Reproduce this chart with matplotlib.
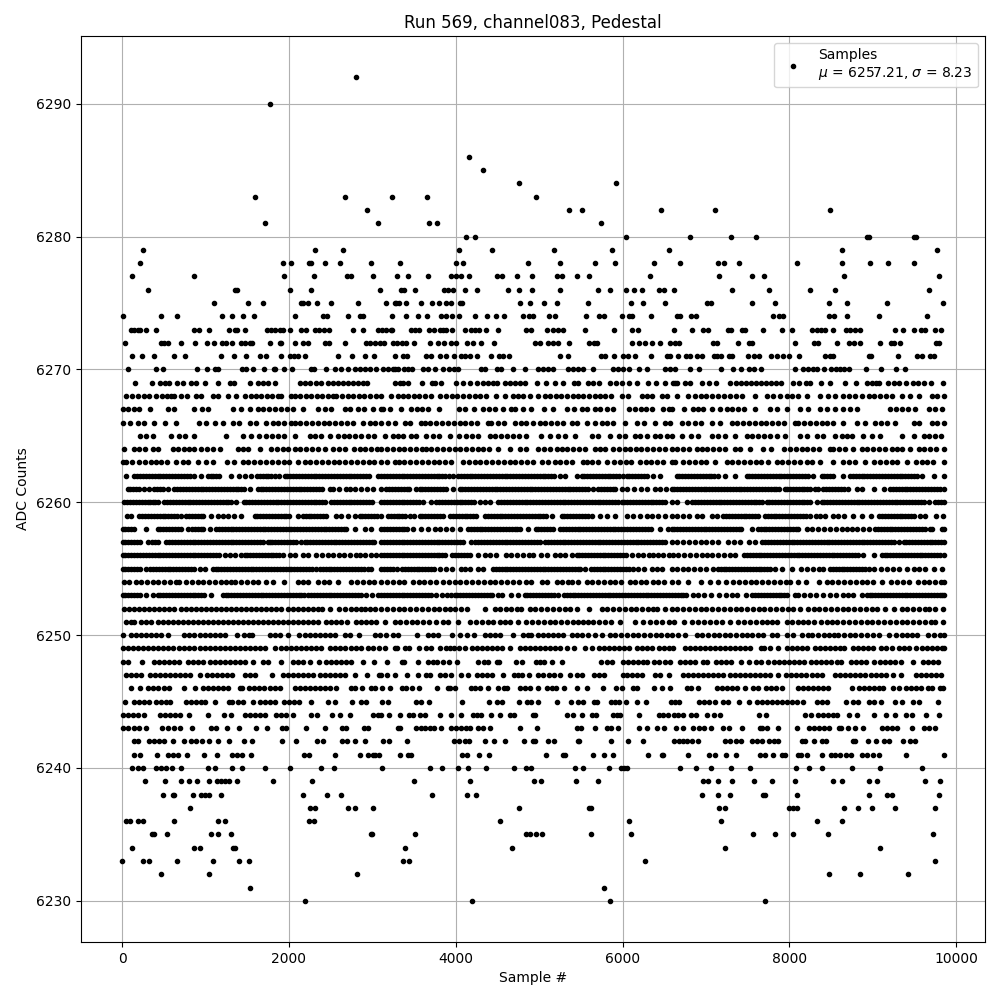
import matplotlib
matplotlib.use("Agg")
import matplotlib.pyplot as plt

# sample numbers, one list per ADC level
adc_6230 = [2195, 4192, 5848, 7708]
adc_6231 = [1535, 5776]
adc_6232 = [470, 1045, 2820, 8476, 8848, 9424]
adc_6233 = [0, 250, 320, 660, 1090, 1405, 1520, 3364, 3436, 6268, 9748]
adc_6234 = [120, 865, 935, 1335, 1355, 3388, 4672, 7228, 9088]
adc_6235 = [360, 385, 540, 1070, 1155, 1310, 2985, 3000, 3508, 4840, 4888, 4960, 5032, 5620, 6100, 7564, 7828, 8044, 8464, 9724]
adc_6236 = [50, 100, 195, 250, 625, 1155, 1235, 2245, 2295, 4528, 6076, 7180, 8332, 8632]
adc_6237 = [815, 2255, 2315, 2710, 2795, 3008, 4756, 5596, 5620, 7156, 7228, 7996, 8044, 8092, 8656, 8824, 8992, 9268, 9748]
adc_6238 = [490, 610, 625, 850, 945, 995, 1045, 1190, 2170, 2460, 2625, 3712, 4132, 4240, 6952, 7144, 7288, 7684, 7708, 8092, 8956, 9172, 9232, 9796]
adc_6239 = [280, 515, 705, 800, 900, 1045, 1140, 1190, 1235, 1285, 1380, 1815, 2280, 3496, 4168, 4936, 5020, 5440, 5704, 6964, 7024, 7144, 7312, 7576, 7792, 8068, 8524, 8632, 8956, 9052, 9628, 9808]
adc_6240 = [120, 190, 250, 410, 470, 530, 600, 705, 1035, 1115, 1320, 1440, 1715, 2015, 2385, 2545, 3112, 3688, 3832, 4024, 4144, 4360, 4696, 4848, 4908, 5428, 5524, 5832, 5980, 6016, 6052, 6688, 6880, 7060, 7300, 7528, 8080, 8236, 8392, 8752, 9088, 9592]
adc_6241 = [145, 215, 420, 550, 610, 670, 780, 985, 1140, 1320, 1380, 1440, 1545, 2185, 2245, 2555, 2855, 2945, 3010, 3028, 3076, 3328, 3428, 3468, 4072, 4132, 4276, 4396, 5080, 5284, 5308, 5644, 5776, 5884, 6304, 6472, 6480, 6784, 7036, 7108, 7240, 7360, 7648, 7708, 7804, 7912, 7948, 8104, 8140, 8212, 8392, 8500, 8548, 8608, 8680, 8740, 8872, 8932, 9004, 9076, 9400, 9850]
adc_6242 = [145, 195, 325, 385, 445, 505, 610, 745, 830, 890, 960, 1045, 1150, 1285, 1465, 1560, 1920, 2085, 2340, 2410, 2640, 2700, 2795, 2915, 3124, 3196, 3412, 3976, 4036, 4108, 4156, 4348, 4456, 4588, 4816, 4924, 4948, 5104, 5176, 5464, 5476, 5860, 6064, 6244, 6616, 6676, 6728, 6776, 6828, 6904, 7228, 7288, 7360, 7420, 7552, 7612, 7672, 7756, 7816, 7868, 8152, 8188, 8296, 8392, 8440, 8764, 8788, 8944, 9040, 9136, 9188, 9364, 9448, 9508]
adc_6243 = [16, 76, 148, 208, 288, 484, 556, 628, 700, 844, 1060, 1128, 1252, 1396, 1600, 1732, 1912, 1960, 2200, 2436, 2632, 2680, 2896, 2944, 3304, 3328, 3520, 3588, 3628, 3688, 3736, 3820, 3940, 4000, 4060, 4128, 4168, 4264, 4324, 4408, 4768, 4972, 5452, 5500, 5668, 5812, 5860, 5944, 6196, 6292, 6412, 6496, 6640, 6724, 6844, 6916, 6976, 7060, 7204, 7276, 7432, 7648, 7672, 7732, 7864, 8092, 8236, 8296, 8356, 8416, 8476, 8596, 8620, 8704, 8788, 8884, 9112, 9172, 9232, 9292, 9472, 9616, 9676, 9748]
adc_6244 = [8, 68, 128, 188, 268, 460, 520, 580, 640, 700, 808, 1032, 1220, 1300, 1468, 1528, 1588, 1648, 1708, 1848, 1908, 1968, 2048, 2268, 2340, 2520, 2608, 2728, 3008, 3068, 3100, 3196, 3328, 3436, 3484, 3568, 3628, 3808, 3940, 4060, 4204, 4252, 4308, 4420, 4528, 4648, 4700, 4924, 4948, 5332, 5404, 5512, 5632, 5680, 5884, 5932, 5972, 6196, 6436, 6484, 6544, 6616, 6668, 6728, 6820, 6880, 7012, 7096, 7168, 7636, 7720, 8188, 8260, 8344, 8404, 8464, 8524, 8572, 8716, 8812, 9016, 9160, 9268, 9400, 9472, 9640, 9796]
adc_6245 = [32, 148, 208, 268, 328, 408, 468, 528, 580, 768, 828, 888, 948, 988, 1108, 1276, 1316, 1388, 1448, 1568, 1648, 1708, 1768, 1828, 1940, 2000, 2060, 2120, 2260, 2468, 2548, 2752, 2860, 2920, 3112, 3184, 3520, 3580, 3676, 4072, 4396, 4492, 4552, 4756, 4852, 4900, 4984, 5212, 5380, 5464, 5524, 5656, 5692, 5860, 5908, 5956, 6040, 6172, 6280, 6580, 6628, 6676, 6916, 6976, 7036, 7108, 7204, 7264, 7396, 7516, 7612, 7672, 7732, 7792, 7852, 7912, 7972, 8032, 8092, 8164, 8332, 8392, 8452, 8680, 8764, 8824, 8956, 9016, 9100, 9268, 9352, 9484, 9556, 9784]
adc_6246 = [108, 220, 308, 368, 428, 508, 568, 748, 880, 968, 1028, 1088, 1148, 1208, 1268, 1408, 1436, 1516, 1576, 1636, 1696, 1768, 1828, 1888, 2068, 2128, 2188, 2248, 2308, 2368, 2428, 2488, 2560, 2740, 2788, 2872, 2980, 3028, 3112, 3208, 3352, 3400, 3472, 3556, 3772, 3904, 3928, 3988, 4180, 4236, 4288, 4384, 4504, 4576, 4620, 4768, 4828, 4888, 4984, 5092, 5148, 5200, 5296, 5452, 5572, 5764, 5920, 5992, 6124, 6172, 6376, 6472, 6568, 6772, 6820, 6904, 7132, 7192, 7252, 7312, 7372, 7468, 7564, 7624, 7720, 7780, 7840, 7912, 8104, 8164, 8224, 8284, 8344, 8404, 8464, 8752, 8836, 8896, 8956, 9016, 9076, 9124, 9244, 9316, 9400, 9460, 9520, 9580, 9664, 9712, 9808, 9845]
adc_6247 = [48, 108, 168, 228, 340, 400, 460, 520, 580, 640, 700, 760, 820, 928, 1020, 1080, 1140, 1200, 1260, 1320, 1468, 1528, 1588, 1792, 1924, 1984, 2044, 2104, 2164, 2224, 2284, 2368, 2428, 2488, 2548, 2608, 2668, 2788, 2940, 3076, 3100, 3172, 3268, 3420, 3544, 3640, 3688, 3808, 3868, 3940, 4060, 4144, 4252, 4312, 4372, 4432, 4564, 4696, 4744, 4796, 4880, 4984, 5044, 5116, 5176, 5248, 5368, 5452, 5512, 5656, 5716, 5776, 6004, 6052, 6112, 6172, 6232, 6388, 6448, 6556, 6724, 6784, 6844, 6904, 6964, 7024, 7084, 7144, 7204, 7288, 7348, 7408, 7468, 7528, 7588, 7648, 7708, 7768, 7864, 7960, 8020, 8080, 8140, 8200, 8272, 8332, 8392, 8548, 8608, 8668, 8728, 8788, 8848, 8908, 8980, 9040, 9100, 9160, 9244, 9340, 9520, 9580, 9640, 9700, 9760, 9820]
adc_6248 = [8, 68, 236, 388, 448, 508, 568, 628, 688, 788, 848, 908, 968, 1048, 1108, 1168, 1228, 1288, 1348, 1408, 1468, 1568, 1688, 1748, 1900, 2048, 2108, 2168, 2248, 2356, 2448, 2508, 2568, 2628, 2688, 2748, 2888, 3016, 3172, 3352, 3380, 3544, 3664, 3724, 3772, 3844, 3916, 4012, 4264, 4336, 4384, 4492, 4516, 4720, 4792, 4960, 5008, 5056, 5152, 5272, 5740, 5812, 5872, 6004, 6064, 6124, 6184, 6244, 6292, 6376, 6436, 6508, 6568, 6688, 6748, 6808, 6868, 6964, 7012, 7120, 7180, 7240, 7300, 7420, 7516, 7600, 7660, 7744, 7816, 7876, 7936, 7996, 8056, 8116, 8176, 8260, 8320, 8380, 8440, 8500, 8572, 8620, 8740, 8800, 8860, 8920, 9016, 9088, 9148, 9208, 9268, 9340, 9484, 9604, 9664, 9724, 9784]
adc_6249 = [8, 68, 128, 188, 248, 308, 368, 428, 488, 548, 608, 688, 748, 808, 868, 928, 988, 1048, 1108, 1168, 1228, 1288, 1348, 1408, 1468, 1528, 1588, 1648, 1708, 1828, 1908, 1968, 2028, 2088, 2148, 2208, 2268, 2328, 2388, 2488, 2548, 2608, 2668, 2748, 2808, 2868, 2948, 3008, 3084, 3148, 3268, 3300, 3388, 3444, 3556, 3640, 3700, 3808, 3880, 3928, 3976, 4036, 4108, 4192, 4252, 4312, 4372, 4432, 4492, 4552, 4648, 4768, 4828, 4888, 4948, 5008, 5068, 5128, 5188, 5248, 5332, 5416, 5548, 5632, 5716, 5776, 5836, 5896, 5956, 6016, 6076, 6172, 6232, 6292, 6352, 6436, 6496, 6556, 6608, 6748, 6808, 6868, 6928, 6988, 7048, 7108, 7168, 7228, 7288, 7348, 7408, 7468, 7528, 7660, 7696, 7768, 7864, 7972, 8032, 8092, 8152, 8212, 8308, 8368, 8428, 8488, 8548, 8608, 8656, 8764, 8824, 8884, 8944, 9004, 9100, 9160, 9232, 9316, 9376, 9436, 9520, 9592, 9652, 9712, 9772, 9832, 9850]
adc_6250 = [16, 108, 168, 228, 288, 348, 408, 468, 556, 748, 808, 868, 928, 988, 1048, 1108, 1168, 1228, 1372, 1460, 1520, 1556, 1768, 1828, 1888, 1988, 2116, 2188, 2248, 2308, 2368, 2428, 2488, 2548, 2668, 2728, 2836, 3028, 3088, 3168, 3248, 3308, 3532, 3668, 3730, 3788, 3956, 4048, 4132, 4216, 4348, 4410, 4470, 4528, 4688, 4808, 4868, 4908, 4988, 5050, 5110, 5170, 5230, 5288, 5388, 5450, 5508, 5588, 5665, 5748, 5848, 5915, 5985, 6050, 6120, 6190, 6260, 6330, 6400, 6465, 6530, 6588, 6660, 6748, 6888, 6955, 7020, 7090, 7155, 7225, 7290, 7360, 7428, 7488, 7548, 7628, 7688, 7788, 7848, 7968, 8048, 8148, 8228, 8268, 8348, 8410, 8470, 8530, 8588, 8660, 8725, 8790, 8860, 8930, 9000, 9068, 9188, 9276, 9348, 9408, 9470, 9528, 9660, 9730, 9800, 9850]
adc_6251 = [48, 108, 148, 228, 288, 348, 428, 488, 548, 608, 668, 728, 788, 848, 908, 968, 1028, 1088, 1148, 1208, 1268, 1328, 1388, 1448, 1508, 1568, 1628, 1688, 1748, 1808, 1868, 1928, 1988, 2048, 2108, 2168, 2228, 2288, 2348, 2448, 2508, 2568, 2628, 2700, 2800, 2860, 2920, 2980, 3048, 3148, 3268, 3335, 3400, 3470, 3540, 3610, 3680, 3768, 3848, 3908, 4024, 4168, 4240, 4315, 4388, 4448, 4528, 4588, 4648, 4748, 4848, 4915, 4985, 5055, 5125, 5190, 5260, 5330, 5400, 5465, 5530, 5588, 5648, 5720, 5790, 5860, 5968, 6148, 6248, 6328, 6400, 6468, 6556, 6620, 6740, 6828, 6900, 6975, 7045, 7115, 7188, 7288, 7388, 7460, 7530, 7600, 7670, 7730, 7788, 7848, 7968, 8030, 8100, 8168, 8228, 8300, 8375, 8448, 8508, 8575, 8645, 8715, 8785, 8855, 8925, 8995, 9065, 9135, 9205, 9275, 9345, 9415, 9485, 9555, 9625, 9695, 9748, 9836]
adc_6252 = [28, 88, 148, 208, 268, 328, 388, 448, 508, 568, 628, 708, 768, 828, 888, 948, 1008, 1068, 1128, 1188, 1248, 1308, 1368, 1428, 1488, 1548, 1608, 1668, 1728, 1788, 1848, 1908, 1988, 2048, 2108, 2168, 2228, 2288, 2348, 2396, 2488, 2596, 2668, 2740, 2800, 2860, 2908, 2968, 3028, 3108, 3175, 3245, 3315, 3385, 3455, 3525, 3595, 3665, 3735, 3805, 3868, 3928, 3995, 4065, 4140, 4348, 4468, 4535, 4600, 4665, 4730, 4788, 4888, 4955, 5025, 5095, 5165, 5235, 5305, 5375, 5448, 5596, 5748, 5815, 5885, 5955, 6025, 6095, 6165, 6235, 6305, 6370, 6408, 6508, 6588, 6655, 6725, 6795, 6865, 6935, 7005, 7075, 7145, 7215, 7285, 7355, 7425, 7495, 7568, 7636, 7700, 7770, 7840, 7910, 7980, 8048, 8128, 8220, 8290, 8360, 8430, 8500, 8570, 8648, 8708, 8775, 8845, 8915, 8985, 9055, 9148, 9248, 9348, 9415, 9485, 9555, 9625, 9668, 9748, 9840]
adc_6253 = [8, 75, 145, 215, 290, 368, 428, 495, 565, 635, 705, 775, 845, 915, 985, 1068, 1208, 1275, 1345, 1415, 1485, 1555, 1625, 1695, 1765, 1835, 1905, 1975, 2045, 2115, 2185, 2228, 2268, 2335, 2405, 2475, 2545, 2615, 2685, 2755, 2825, 2868, 2928, 2995, 3065, 3108, 3175, 3245, 3315, 3385, 3455, 3525, 3595, 3665, 3708, 3768, 3835, 3900, 3948, 3988, 4055, 4125, 4195, 4265, 4335, 4405, 4508, 4556, 4668, 4748, 4828, 4895, 4965, 5035, 5105, 5175, 5228, 5300, 5365, 5435, 5505, 5575, 5645, 5715, 5785, 5855, 5925, 5995, 6065, 6135, 6205, 6275, 6345, 6415, 6485, 6555, 6625, 6695, 6765, 6848, 6900, 6975, 7060, 7156, 7235, 7308, 7368, 7476, 7556, 7625, 7695, 7765, 7835, 7905, 7975, 8068, 8108, 8175, 8245, 8315, 8408, 8488, 8560, 8640, 8708, 8768, 8868, 8928, 8995, 9065, 9135, 9205, 9275, 9345, 9415, 9485, 9555, 9625, 9695, 9765, 9835, 9852]
adc_6254 = [28, 88, 168, 228, 295, 365, 435, 505, 575, 645, 688, 768, 835, 905, 975, 1045, 1115, 1185, 1248, 1308, 1348, 1428, 1495, 1565, 1635, 1728, 1808, 1936, 2108, 2170, 2228, 2348, 2415, 2485, 2588, 2748, 2815, 2885, 2955, 3025, 3108, 3175, 3245, 3315, 3380, 3488, 3555, 3625, 3688, 3760, 3848, 3915, 3985, 4055, 4125, 4195, 4265, 4335, 4405, 4475, 4545, 4615, 4685, 4755, 4848, 4908, 5028, 5092, 5208, 5275, 5345, 5388, 5468, 5568, 5636, 5708, 5775, 5845, 5915, 5985, 6088, 6148, 6215, 6285, 6368, 6428, 6495, 6588, 6668, 6788, 6940, 7048, 7148, 7236, 7328, 7395, 7465, 7535, 7605, 7675, 7745, 7815, 7885, 7955, 8008, 8100, 8196, 8356, 8448, 8515, 8585, 8655, 8725, 8795, 8865, 8935, 9005, 9108, 9220, 9290, 9360, 9428, 9540, 9608, 9678, 9748, 9818, 9850]
adc_6255 = [8, 75, 145, 215, 288, 340, 405, 475, 545, 615, 685, 755, 825, 868, 928, 988, 1088, 1155, 1225, 1295, 1365, 1435, 1505, 1575, 1645, 1715, 1785, 1855, 1925, 1995, 2065, 2135, 2205, 2275, 2368, 2408, 2475, 2545, 2615, 2685, 2755, 2825, 2895, 2948, 2988, 3108, 3175, 3245, 3300, 3356, 3425, 3495, 3565, 3635, 3700, 3740, 3810, 3880, 3950, 4060, 4108, 4175, 4268, 4328, 4448, 4515, 4585, 4655, 4725, 4795, 4865, 4935, 5005, 5075, 5145, 5215, 5285, 5355, 5425, 5495, 5548, 5620, 5690, 5760, 5830, 5900, 5970, 6040, 6128, 6188, 6255, 6348, 6408, 6475, 6588, 6655, 6728, 6788, 6860, 6930, 7000, 7088, 7140, 7210, 7280, 7350, 7420, 7490, 7560, 7630, 7700, 7770, 7828, 7908, 8028, 8140, 8210, 8280, 8350, 8408, 8488, 8555, 8625, 8695, 8765, 8835, 8905, 9008, 9100, 9170, 9240, 9310, 9408, 9488, 9555, 9625, 9728, 9828]
adc_6256 = [8, 75, 145, 215, 285, 355, 425, 495, 565, 635, 705, 775, 845, 915, 985, 1055, 1125, 1228, 1288, 1355, 1428, 1468, 1535, 1605, 1675, 1745, 1815, 1885, 1928, 2008, 2068, 2168, 2228, 2328, 2395, 2465, 2528, 2596, 2665, 2735, 2808, 2848, 2915, 2985, 3048, 3108, 3175, 3245, 3315, 3385, 3455, 3525, 3595, 3665, 3735, 3805, 3868, 3956, 4025, 4095, 4165, 4268, 4348, 4415, 4485, 4608, 4668, 4735, 4805, 4875, 4928, 5020, 5090, 5188, 5248, 5315, 5388, 5448, 5515, 5585, 5655, 5725, 5795, 5865, 5935, 6005, 6108, 6180, 6248, 6315, 6368, 6428, 6488, 6556, 6608, 6668, 6735, 6805, 6875, 6948, 7008, 7075, 7145, 7215, 7285, 7348, 7460, 7525, 7595, 7665, 7735, 7805, 7875, 7945, 8015, 8085, 8155, 8225, 8295, 8365, 8435, 8505, 8575, 8645, 8715, 8785, 8888, 9008, 9108, 9175, 9245, 9315, 9385, 9455, 9525, 9595, 9665, 9735, 9805, 9850]
adc_6257 = [8, 75, 145, 215, 308, 356, 425, 528, 568, 635, 705, 775, 845, 915, 985, 1055, 1125, 1195, 1265, 1335, 1405, 1475, 1545, 1615, 1685, 1748, 1768, 1835, 1905, 1975, 2045, 2148, 2188, 2255, 2325, 2395, 2465, 2535, 2605, 2675, 2745, 2815, 2885, 2955, 3025, 3108, 3175, 3245, 3315, 3385, 3455, 3525, 3595, 3665, 3735, 3805, 3875, 3945, 4015, 4085, 4180, 4236, 4305, 4375, 4445, 4515, 4585, 4655, 4725, 4795, 4865, 4935, 5005, 5068, 5108, 5175, 5245, 5315, 5385, 5455, 5525, 5595, 5665, 5735, 5805, 5875, 5945, 6015, 6085, 6155, 6225, 6295, 6365, 6435, 6505, 6588, 6655, 6725, 6795, 6865, 6935, 7005, 7075, 7145, 7268, 7340, 7410, 7516, 7588, 7676, 7745, 7815, 7885, 7955, 8025, 8095, 8165, 8235, 8305, 8375, 8445, 8515, 8585, 8655, 8725, 8795, 8865, 8935, 9005, 9075, 9145, 9215, 9308, 9368, 9435, 9505, 9575, 9645, 9715, 9785, 9850]
adc_6258 = [8, 75, 145, 288, 428, 495, 565, 635, 705, 788, 836, 905, 975, 1048, 1128, 1195, 1265, 1335, 1405, 1475, 1545, 1615, 1688, 1716, 1785, 1855, 1925, 1995, 2065, 2135, 2205, 2275, 2345, 2415, 2485, 2555, 2625, 2688, 2788, 2908, 2988, 3108, 3175, 3245, 3315, 3385, 3488, 3588, 3668, 3748, 3815, 3885, 3955, 4048, 4148, 4215, 4285, 4355, 4425, 4495, 4565, 4635, 4705, 4775, 4868, 4956, 5025, 5095, 5165, 5248, 5288, 5355, 5425, 5495, 5565, 5635, 5705, 5775, 5845, 5915, 5985, 6055, 6125, 6195, 6265, 6335, 6448, 6540, 6588, 6655, 6725, 6795, 6865, 6935, 7005, 7075, 7145, 7215, 7285, 7355, 7425, 7548, 7620, 7690, 7760, 7830, 7900, 7970, 8040, 8108, 8208, 8275, 8345, 8415, 8485, 8555, 8625, 8688, 8748, 8815, 8885, 8948, 9028, 9095, 9165, 9235, 9305, 9375, 9445, 9515, 9585, 9708, 9828, 9850]
adc_6259 = [60, 108, 208, 275, 345, 415, 485, 555, 625, 708, 768, 835, 905, 975, 1060, 1148, 1208, 1275, 1345, 1428, 1588, 1655, 1725, 1795, 1865, 1935, 2005, 2108, 2168, 2235, 2305, 2375, 2445, 2568, 2628, 2708, 2788, 2848, 2915, 2985, 3055, 3108, 3188, 3255, 3325, 3395, 3448, 3496, 3568, 3635, 3705, 3775, 3845, 3928, 3968, 4035, 4105, 4175, 4245, 4348, 4388, 4455, 4525, 4595, 4665, 4735, 4805, 4875, 4945, 5015, 5085, 5148, 5268, 5335, 5405, 5475, 5545, 5628, 5728, 5808, 5908, 6048, 6128, 6208, 6288, 6348, 6428, 6508, 6588, 6655, 6725, 6795, 6888, 6948, 7068, 7128, 7208, 7275, 7345, 7415, 7485, 7555, 7628, 7708, 7775, 7845, 7915, 7985, 8055, 8125, 8195, 8248, 8316, 8368, 8428, 8528, 8588, 8655, 8768, 8876, 8980, 9076, 9145, 9215, 9285, 9355, 9425, 9488, 9568, 9628, 9760, 9845]
adc_6260 = [28, 95, 165, 235, 305, 375, 428, 508, 575, 645, 715, 785, 855, 925, 995, 1065, 1135, 1205, 1275, 1368, 1460, 1525, 1595, 1665, 1735, 1805, 1875, 1945, 2015, 2085, 2155, 2225, 2295, 2365, 2428, 2508, 2575, 2645, 2715, 2785, 2855, 2925, 2995, 3108, 3175, 3245, 3315, 3385, 3455, 3525, 3608, 3700, 3768, 3835, 3905, 3975, 4045, 4115, 4185, 4288, 4348, 4408, 4508, 4548, 4615, 4685, 4755, 4825, 4895, 4965, 5035, 5105, 5175, 5245, 5315, 5385, 5455, 5525, 5595, 5665, 5735, 5805, 5875, 5948, 5988, 6055, 6125, 6195, 6265, 6335, 6405, 6475, 6588, 6655, 6768, 6836, 6905, 6975, 7045, 7115, 7185, 7255, 7325, 7395, 7465, 7535, 7605, 7668, 7728, 7795, 7865, 7935, 8005, 8075, 8145, 8215, 8328, 8388, 8455, 8525, 8595, 8665, 8735, 8805, 8875, 8945, 9015, 9085, 9155, 9225, 9295, 9365, 9435, 9505, 9575, 9668, 9748, 9815, 9850]
adc_6261 = [68, 135, 205, 328, 388, 455, 556, 628, 695, 765, 835, 905, 975, 1045, 1115, 1185, 1255, 1325, 1395, 1465, 1528, 1628, 1695, 1765, 1835, 1905, 1975, 2045, 2115, 2185, 2255, 2325, 2395, 2488, 2528, 2595, 2688, 2728, 2795, 2865, 2935, 3005, 3108, 3168, 3235, 3305, 3375, 3445, 3528, 3568, 3635, 3705, 3775, 3845, 3968, 4048, 4115, 4185, 4255, 4325, 4395, 4465, 4535, 4605, 4675, 4745, 4815, 4885, 4955, 5025, 5095, 5165, 5235, 5305, 5375, 5445, 5515, 5585, 5648, 5708, 5775, 5845, 5915, 6048, 6140, 6220, 6290, 6388, 6448, 6515, 6588, 6655, 6725, 6795, 6865, 6935, 7005, 7075, 7145, 7215, 7285, 7355, 7425, 7495, 7565, 7635, 7705, 7775, 7845, 7968, 8008, 8075, 8145, 8215, 8348, 8408, 8475, 8545, 8615, 8708, 8808, 8875, 9008, 9136, 9208, 9275, 9345, 9415, 9485, 9555, 9625, 9695, 9765, 9850]
adc_6262 = [48, 148, 215, 285, 355, 425, 495, 565, 635, 705, 775, 868, 940, 1028, 1095, 1165, 1308, 1400, 1468, 1548, 1615, 1685, 1755, 1828, 1876, 1948, 2015, 2085, 2155, 2225, 2295, 2365, 2435, 2505, 2575, 2645, 2715, 2785, 2855, 2925, 3068, 3108, 3175, 3245, 3315, 3385, 3455, 3525, 3595, 3665, 3735, 3805, 3875, 3968, 4028, 4095, 4165, 4235, 4305, 4375, 4445, 4515, 4585, 4655, 4725, 4795, 4865, 4935, 5005, 5075, 5145, 5248, 5308, 5448, 5508, 5575, 5645, 5715, 5785, 5855, 5925, 6008, 6048, 6115, 6185, 6255, 6368, 6448, 6648, 6715, 6785, 6855, 6925, 6995, 7065, 7148, 7228, 7348, 7488, 7555, 7625, 7695, 7765, 7835, 7905, 7975, 8045, 8115, 8185, 8288, 8388, 8455, 8525, 8648, 8728, 8795, 8865, 8935, 9005, 9075, 9145, 9215, 9285, 9355, 9425, 9495, 9588, 9736, 9850]
adc_6263 = [8, 48, 116, 208, 280, 348, 412, 468, 535, 648, 728, 795, 908, 1008, 1088, 1252, 1340, 1448, 1515, 1585, 1655, 1725, 1795, 1865, 1935, 2005, 2108, 2188, 2255, 2325, 2395, 2465, 2535, 2605, 2675, 2745, 2815, 2885, 2955, 3025, 3108, 3175, 3268, 3316, 3385, 3455, 3525, 3595, 3665, 3735, 3805, 3875, 3945, 4088, 4156, 4225, 4295, 4365, 4435, 4505, 4575, 4645, 4715, 4785, 4855, 4925, 5028, 5108, 5188, 5255, 5325, 5395, 5528, 5568, 5635, 5705, 5808, 5900, 5965, 6035, 6105, 6208, 6280, 6345, 6415, 6485, 6588, 6628, 6728, 6795, 6865, 6935, 7005, 7108, 7248, 7315, 7385, 7455, 7525, 7595, 7665, 7748, 7848, 7915, 7985, 8055, 8125, 8208, 8276, 8368, 8528, 8648, 8715, 8785, 8908, 9016, 9088, 9155, 9225, 9295, 9408, 9520, 9585, 9655, 9725, 9848]
adc_6264 = [28, 140, 205, 275, 368, 428, 608, 675, 745, 808, 868, 948, 1015, 1085, 1168, 1388, 1455, 1508, 1648, 1788, 1855, 1925, 1988, 2068, 2135, 2205, 2275, 2345, 2428, 2528, 2595, 2668, 2780, 2848, 2915, 2985, 3055, 3108, 3175, 3245, 3315, 3385, 3455, 3525, 3595, 3648, 3708, 3775, 3845, 3915, 3985, 4055, 4125, 4195, 4265, 4328, 4396, 4508, 4648, 4768, 4848, 4988, 5055, 5125, 5208, 5268, 5335, 5405, 5475, 5545, 5668, 5728, 5795, 5888, 5956, 6028, 6088, 6155, 6225, 6295, 6365, 6435, 6505, 6588, 6655, 6725, 6795, 6888, 6948, 7008, 7088, 7155, 7225, 7348, 7408, 7528, 7688, 7780, 7940, 8005, 8075, 8145, 8215, 8285, 8355, 8488, 8528, 8595, 8665, 8768, 8868, 8935, 9005, 9075, 9145, 9228, 9288, 9355, 9448, 9548, 9615, 9685, 9755, 9850]
adc_6265 = [220, 288, 368, 592, 688, 755, 868, 1240, 1448, 1548, 1636, 1728, 1795, 1865, 1935, 2068, 2248, 2315, 2385, 2488, 2588, 2655, 2725, 2795, 2865, 2948, 3020, 3156, 3248, 3308, 3368, 3460, 3528, 3648, 3724, 3796, 3928, 4036, 4128, 4195, 4265, 4408, 4468, 4548, 4615, 4685, 4755, 4848, 5020, 5128, 5228, 5308, 5428, 5628, 5700, 5848, 5956, 6025, 6148, 6208, 6288, 6388, 6448, 6528, 6588, 6708, 6820, 6900, 7068, 7145, 7228, 7348, 7488, 7555, 7625, 7695, 7765, 7848, 7948, 8128, 8208, 8336, 8408, 8548, 8628, 8688, 8748, 8888, 8988, 9088, 9348, 9488, 9608, 9675, 9745, 9820]
adc_6266 = [16, 100, 196, 268, 388, 520, 652, 916, 1000, 1108, 1208, 1328, 1396, 1528, 1608, 1728, 1808, 1875, 1945, 2028, 2068, 2135, 2205, 2275, 2345, 2415, 2485, 2555, 2625, 2695, 2765, 2888, 2968, 3035, 3108, 3188, 3268, 3388, 3455, 3588, 3628, 3695, 3765, 3835, 3905, 3975, 4045, 4115, 4185, 4255, 4388, 4420, 4508, 4575, 4708, 4788, 4848, 4928, 5008, 5075, 5145, 5215, 5285, 5388, 5448, 5568, 5668, 5748, 5808, 5888, 6028, 6168, 6256, 6388, 6508, 6568, 6708, 6788, 6868, 6935, 7068, 7168, 7308, 7375, 7445, 7515, 7585, 7655, 7725, 7795, 7865, 7935, 8068, 8108, 8175, 8245, 8315, 8385, 8455, 8525, 8648, 8808, 8908, 9028, 9095, 9165, 9268, 9488, 9548, 9708, 9775, 9848]
adc_6267 = [8, 75, 140, 208, 340, 548, 628, 860, 956, 1028, 1328, 1428, 1528, 1628, 1695, 1765, 1835, 1905, 1975, 2045, 2168, 2348, 2428, 2508, 2668, 2728, 2828, 2900, 3008, 3108, 3128, 3208, 3340, 3460, 3530, 3600, 3670, 3796, 4036, 4108, 4220, 4328, 4400, 4468, 4564, 4660, 4708, 4808, 4908, 5060, 5164, 5332, 5420, 5508, 5568, 5668, 5728, 5808, 5888, 6076, 6145, 6215, 6285, 6355, 6488, 6556, 6588, 6740, 6848, 6908, 6968, 7068, 7168, 7248, 7315, 7385, 7455, 7588, 7768, 7848, 7976, 8128, 8228, 8368, 8448, 8548, 8648, 8728, 8808, 9208, 9280, 9350, 9420, 9508, 9668, 9748, 9828]
adc_6268 = [48, 115, 190, 268, 324, 408, 475, 535, 588, 628, 708, 776, 888, 948, 1088, 1150, 1268, 1360, 1468, 1540, 1608, 1668, 1735, 1800, 1868, 1908, 2028, 2068, 2135, 2200, 2270, 2335, 2400, 2465, 2528, 2568, 2635, 2705, 2770, 2840, 2905, 2975, 3040, 3108, 3228, 3308, 3368, 3428, 3495, 3560, 3630, 3700, 3808, 3888, 3955, 4020, 4090, 4155, 4225, 4290, 4360, 4488, 4588, 4688, 4748, 4808, 4896, 4988, 5068, 5135, 5200, 5265, 5335, 5400, 5465, 5530, 5600, 5665, 5730, 5795, 5860, 5988, 6068, 6228, 6290, 6350, 6468, 6528, 6648, 6788, 6868, 6935, 7005, 7075, 7145, 7215, 7285, 7355, 7428, 7588, 7728, 7808, 7888, 7968, 8035, 8105, 8208, 8368, 8468, 8548, 8648, 8715, 8785, 8868, 8948, 9015, 9085, 9155, 9228, 9348, 9448, 9548, 9708, 9775, 9850]
adc_6269 = [160, 364, 460, 520, 568, 664, 736, 832, 892, 988, 1144, 1288, 1336, 1532, 1628, 1688, 1748, 1828, 2128, 2188, 2248, 2328, 2380, 2468, 2528, 2588, 2648, 2708, 2768, 2828, 2888, 2940, 3268, 3328, 3368, 3428, 3596, 3716, 3748, 3828, 4000, 4084, 4168, 4260, 4328, 4388, 4448, 4496, 4588, 4648, 4708, 4768, 4828, 4972, 5080, 5188, 5284, 5416, 5468, 5588, 5648, 5716, 5848, 5916, 5992, 6076, 6172, 6308, 6400, 6508, 6628, 6608, 6648, 6748, 6808, 6948, 7036, 7120, 7288, 7360, 7420, 7480, 7540, 7600, 7660, 7720, 7780, 7840, 7900, 8044, 8116, 8200, 8248, 8376, 8488, 8668, 8804, 8932, 8988, 9036, 9076, 9180, 9248, 9308, 9400, 9484, 9540, 9608, 9700, 9845]
adc_6270 = [76, 412, 496, 904, 1016, 1108, 1148, 1440, 1488, 1564, 1696, 1816, 1836, 1936, 2032, 2260, 2296, 2440, 2548, 2628, 2708, 2788, 2848, 2908, 2968, 3040, 3128, 3188, 3248, 3268, 3308, 3376, 3428, 3476, 3608, 3668, 3748, 3844, 3916, 3976, 4028, 4300, 4348, 4492, 4548, 4684, 4828, 4988, 5048, 5108, 5164, 5348, 5408, 5468, 5528, 5644, 5884, 5948, 6008, 6076, 6196, 6296, 6508, 6568, 6628, 6808, 6916, 7180, 7324, 7420, 7516, 7576, 7660, 8068, 8164, 8224, 8284, 8332, 8416, 8500, 8556, 8608, 8656, 8716, 8920, 9100, 9280, 9384]
adc_6271 = [124, 244, 388, 628, 760, 1180, 1340, 1480, 1648, 1720, 1900, 2008, 2060, 2108, 2188, 2588, 2752, 2908, 3020, 3268, 3364, 3412, 3640, 3700, 3808, 3880, 3976, 4060, 4116, 4172, 4252, 4420, 4516, 4564, 4636, 5248, 5344, 5740, 5788, 5896, 6004, 6068, 6148, 6344, 6528, 6568, 6664, 6760, 6808, 6892, 6956, 7096, 7132, 7180, 7276, 7308, 7504, 7576, 7636, 7780, 7852, 7924, 7996, 8116, 8428, 8488, 8524, 8948, 8980, 9304, 9532, 9588, 9688, 9728]
adc_6272 = [40, 468, 508, 556, 712, 880, 1012, 1096, 1192, 1240, 1312, 1420, 1476, 1528, 1556, 1768, 1888, 1908, 2068, 2164, 2228, 2428, 2476, 2668, 2920, 2968, 3028, 3088, 3136, 3248, 3300, 3360, 3408, 3496, 3696, 3784, 3856, 3940, 4000, 4132, 4204, 4308, 4456, 4948, 5008, 5104, 5164, 5224, 5356, 5596, 5656, 5692, 6112, 6196, 6268, 6356, 6448, 6568, 6628, 6676, 7084, 7132, 7384, 7516, 7548, 8068, 8296, 8348, 8572, 8716, 8776, 8848, 9088, 9220, 9248, 9328, 9760, 9788]
adc_6273 = [108, 148, 188, 220, 292, 412, 868, 916, 1036, 1276, 1348, 1380, 1468, 1740, 1788, 1828, 1888, 1928, 2008, 2140, 2200, 2308, 2356, 2416, 2476, 2764, 2884, 3068, 3116, 3168, 3228, 3240, 3460, 3508, 3556, 3676, 3736, 3808, 3848, 3888, 3956, 4108, 4188, 4228, 4276, 4368, 4504, 4848, 4900, 5092, 5164, 5224, 5284, 5548, 5900, 6112, 6184, 6616, 6832, 6964, 7024, 7268, 7300, 7432, 7468, 7684, 7912, 8032, 8272, 8332, 8380, 8428, 8524, 8680, 8728, 8788, 8848, 9268, 9364, 9496, 9580, 9620, 9748, 9820]
adc_6274 = [16, 472, 664, 1192, 1312, 1444, 1576, 2068, 2404, 2456, 2704, 2848, 2884, 3232, 3400, 3544, 3652, 3828, 3888, 3956, 4036, 4228, 4372, 4480, 4576, 4804, 4876, 4928, 5116, 5188, 5560, 5716, 5772, 5992, 6076, 6116, 6340, 6648, 6688, 6820, 6876, 7804, 7876, 7924, 8476, 8536, 8692, 9076, 9652]
adc_6275 = [1096, 1504, 1684, 2148, 2168, 2228, 2332, 2500, 2824, 3160, 3268, 3316, 3280, 3400, 3580, 3716, 3796, 3888, 3948, 4048, 4076, 4768, 4888, 5056, 5212, 5584, 6100, 6244, 6508, 7012, 7060, 7552, 7828, 8476, 8692, 9172, 9845]
adc_6276 = [316, 1348, 1380, 2008, 2260, 3088, 3340, 3376, 3508, 3860, 3908, 3964, 4108, 4252, 4624, 4756, 4912, 5248, 5704, 5848, 6040, 6136, 6232, 6436, 6496, 6616, 7312, 7756, 8248, 8548, 9676]
adc_6277 = [124, 868, 1936, 2296, 2700, 2740, 3004, 3292, 3424, 3664, 3940, 4008, 4068, 4156, 4492, 4552, 4732, 4912, 5212, 5272, 5452, 5596, 6328, 7156, 7552, 7696, 8656, 9796]
adc_6278 = [220, 1924, 2020, 2236, 2268, 2428, 2608, 2980, 3328, 4000, 4084, 4864, 5248, 5668, 5908, 6376, 6688, 7144, 7216, 7396, 8092, 8632, 8968, 9184, 9496]
adc_6279 = [256, 2308, 2644, 4036, 4432, 5176, 5872, 6556, 8632, 9772]
adc_6280 = [4125, 4225, 6045, 6810, 7305, 7605, 8925, 8950, 9490, 9520]
adc_6281 = [1715, 3070, 3680, 3770, 5745]
adc_6282 = [2940, 5360, 5515, 6465, 7110, 8490]
adc_6283 = [1595, 2675, 3240, 3660, 4965]
adc_6284 = [4760, 5925]
adc_6285 = [4330]
adc_6286 = [4160]
adc_6290 = [1775]
adc_6292 = [2800]

# second pass over the solid runs of the busiest levels
more_6253 = [40, 110, 180, 460, 530, 600, 670, 740, 810, 880, 950, 1240, 1310, 1380, 1450, 1520, 1590, 1660, 1730, 1800, 1870, 1940, 2010, 2080, 2150, 2300, 2370, 2440, 2510, 2580, 2650, 2720, 2790, 3140, 3210, 3280, 3350, 3420, 3490, 3560, 3630, 4020, 4090, 4160, 4230, 4300, 4370, 4440, 4860, 4930, 5000, 5070, 5140, 5330, 5400, 5470, 5540, 5610, 5680, 5750, 5820, 5890, 5960, 6030, 6100, 6170, 6240, 6310, 6380, 6450, 6520, 6590, 6660, 6730, 7590, 7660, 7730, 7800, 7870, 7940, 8960, 9030, 9100, 9170, 9240, 9310, 9380, 9450, 9520, 9590, 9660, 9730, 9800]
more_6255 = [40, 110, 180, 370, 440, 510, 580, 650, 720, 790, 1120, 1190, 1260, 1330, 1400, 1470, 1540, 1610, 1680, 1750, 1820, 1890, 1960, 2030, 2100, 2170, 2240, 2320, 2440, 2510, 2580, 2650, 2720, 2790, 2860, 3140, 3210, 3390, 3460, 3530, 3600, 3670, 4480, 4550, 4620, 4690, 4760, 4830, 4900, 4970, 5040, 5110, 5180, 5250, 5320, 5390, 5460, 5655, 5725, 5795, 5865, 5935, 6005, 6075, 7175, 7245, 7315, 7385, 7455, 7525, 7595, 7665, 7735, 8520, 8590, 8660, 8730, 8800, 8870, 8950]
more_6256 = [40, 110, 180, 250, 320, 390, 460, 530, 600, 670, 740, 810, 880, 950, 1020, 1090, 1160, 1500, 1570, 1640, 1710, 1780, 1850, 3140, 3210, 3280, 3350, 3420, 3490, 3560, 3630, 3700, 3770, 3840, 3990, 4060, 4130, 5480, 5550, 5620, 5690, 5760, 5830, 5900, 5970, 6040, 7490, 7560, 7630, 7700, 7770, 7840, 7910, 7980, 8050, 8120, 8190, 8260, 8330, 8400, 8470, 8540, 8610, 8680, 8750, 8820, 9140, 9210, 9280, 9350, 9420, 9490, 9560, 9630, 9700, 9770]
more_6257 = [40, 110, 180, 390, 600, 670, 740, 810, 880, 950, 1020, 1090, 1160, 1230, 1300, 1370, 1440, 1510, 1580, 1650, 1800, 1870, 1940, 2010, 2080, 2220, 2290, 2360, 2430, 2500, 2570, 2640, 2710, 2780, 2850, 2920, 2990, 3140, 3210, 3280, 3350, 3420, 3490, 3560, 3630, 3700, 3770, 3840, 3910, 3980, 4050, 4270, 4340, 4410, 4480, 4550, 4620, 4690, 4760, 4830, 4900, 4970, 5140, 5210, 5280, 5350, 5420, 5490, 5560, 5630, 5700, 5770, 5840, 5910, 5980, 6050, 6120, 6190, 6260, 6330, 6400, 6470, 7710, 7780, 7850, 7920, 7990, 8060, 8130, 8200, 8270, 8340, 8410, 8480, 8550, 8620, 8690, 8760, 8830, 8900, 8970, 9040, 9110, 9180, 9250, 9400, 9470, 9540, 9610, 9680, 9750, 9820]
more_6258 = [40, 110, 460, 530, 600, 670, 870, 940, 1160, 1230, 1300, 1370, 1440, 1510, 1580, 1650, 1750, 1820, 1890, 1960, 2030, 2100, 2170, 2240, 2310, 2380, 2450, 2520, 2590, 2655, 3140, 3210, 3280, 3350, 3420, 4180, 4250, 4320, 4390, 4460, 4530, 4600, 4670, 4740, 4990, 5060, 5130, 5320, 5390, 5460, 5530, 5600, 5670, 5740, 5810, 5880, 5950, 6020, 6090, 6160, 6230, 6300, 6620, 6690, 6760, 6830, 6900, 6970, 7040, 7110, 7180, 7250, 7320, 7390, 7655, 7725, 7795, 7865, 7935, 8005, 8075, 9060, 9130, 9200, 9270, 9340, 9410, 9480, 9550, 9620, 9680]
more_6259 = [240, 310, 380, 450, 520, 590, 660, 800, 870, 940, 1620, 1690, 1760, 1830, 1900, 1970, 2200, 2270, 2340, 2410, 2880, 2950, 3020, 3220, 3290, 3360, 3600, 3670, 3740, 3810, 4000, 4070, 4140, 4210, 4420, 4490, 4560, 4630, 4700, 4770, 4840, 4910, 4980, 5050, 5300, 5370, 5440, 5510, 5580, 7240, 7310, 7380, 7450, 7520, 7590, 7740, 7810, 7880, 7950, 8020, 8090, 8160, 9110, 9180, 9250, 9320, 9390, 9460]
more_6260 = [60, 130, 200, 270, 340, 400, 540, 610, 680, 750, 820, 890, 960, 1030, 1100, 1170, 1240, 1310, 1490, 1560, 1630, 1700, 1770, 1840, 1910, 1980, 2050, 2120, 2190, 2260, 2330, 2400, 2540, 2610, 2680, 2750, 2820, 2890, 2960, 3140, 3210, 3280, 3350, 3420, 3490, 3560, 3800, 3870, 3940, 4010, 4080, 4150, 4220, 4580, 4650, 4720, 4790, 4860, 4930, 5000, 5070, 5140, 5210, 5280, 5350, 5420, 5490, 5560, 5630, 5700, 5770, 5840, 5910, 6020, 6090, 6160, 6230, 6300, 6370, 6440, 6510, 6870, 6940, 7010, 7080, 7150, 7220, 7290, 7360, 7430, 7500, 7570, 7640, 7760, 7830, 7900, 7970, 8040, 8110, 8180, 8250, 8420, 8490, 8560, 8630, 8700, 8770, 8840, 8910, 8980, 9050, 9120, 9190, 9260, 9330, 9400, 9470, 9540, 9610, 9780]
more_6261 = [100, 170, 260, 420, 490, 660, 730, 800, 870, 940, 1010, 1080, 1150, 1220, 1290, 1360, 1430, 1660, 1730, 1800, 1870, 1940, 2010, 2080, 2150, 2220, 2290, 2360, 3200, 3270, 3340, 3410, 3600, 3670, 3740, 3810, 3880, 4080, 4150, 4220, 4290, 4360, 4430, 4500, 4570, 4640, 4710, 4780, 4850, 4920, 4990, 5060, 5130, 5200, 5270, 5340, 5410, 5480, 5550, 5740, 5810, 5880, 5990, 6620, 6690, 6760, 6830, 6900, 6970, 7040, 7110, 7180, 7250, 7320, 7390, 7460, 7530, 7600, 7670, 7740, 7810, 7880, 7950, 8040, 8110, 8180, 8250, 8310, 8440, 8510, 8580, 8650, 9240, 9310, 9380, 9450, 9520, 9590, 9660, 9730, 9800]
more_6262 = [180, 250, 320, 390, 460, 530, 600, 670, 740, 810, 1060, 1130, 1650, 1720, 1790, 1980, 2050, 2120, 2190, 2260, 2330, 2400, 2470, 2540, 2610, 2680, 2750, 2820, 2890, 2960, 3140, 3210, 3280, 3350, 3420, 3490, 3560, 3630, 3700, 3770, 3840, 3920, 4060, 4130, 4200, 4270, 4340, 4410, 4480, 4550, 4620, 4690, 4760, 4830, 4900, 4970, 5040, 5110, 5180, 5540, 5610, 5680, 5750, 5820, 5890, 5960, 6080, 6150, 6220, 6290, 6680, 6750, 6820, 6890, 6960, 7030, 7100, 7520, 7590, 7660, 7730, 7800, 7870, 7940, 8010, 8080, 8150, 8220, 8420, 8490, 8760, 8830, 8900, 8970, 9040, 9110, 9180, 9250, 9320, 9390, 9460, 9530]

levels = [6230, 6231, 6232, 6233, 6234, 6235, 6236, 6237, 6238, 6239,
          6240, 6241, 6242, 6243, 6244, 6245, 6246, 6247, 6248, 6249,
          6250, 6251, 6252, 6253, 6254, 6255, 6256, 6257, 6258, 6259,
          6260, 6261, 6262, 6263, 6264, 6265, 6266, 6267, 6268, 6269,
          6270, 6271, 6272, 6273, 6274, 6275, 6276, 6277, 6278, 6279,
          6280, 6281, 6282, 6283, 6284, 6285, 6286, 6290, 6292,
          6253, 6255, 6256, 6257, 6258, 6259, 6260, 6261, 6262]
rows = [adc_6230, adc_6231, adc_6232, adc_6233, adc_6234, adc_6235, adc_6236, adc_6237, adc_6238, adc_6239,
        adc_6240, adc_6241, adc_6242, adc_6243, adc_6244, adc_6245, adc_6246, adc_6247, adc_6248, adc_6249,
        adc_6250, adc_6251, adc_6252, adc_6253, adc_6254, adc_6255, adc_6256, adc_6257, adc_6258, adc_6259,
        adc_6260, adc_6261, adc_6262, adc_6263, adc_6264, adc_6265, adc_6266, adc_6267, adc_6268, adc_6269,
        adc_6270, adc_6271, adc_6272, adc_6273, adc_6274, adc_6275, adc_6276, adc_6277, adc_6278, adc_6279,
        adc_6280, adc_6281, adc_6282, adc_6283, adc_6284, adc_6285, adc_6286, adc_6290, adc_6292,
        more_6253, more_6255, more_6256, more_6257, more_6258, more_6259, more_6260, more_6261, more_6262]

samples = []
counts = []
for level, row in zip(levels, rows):
    samples.extend(row)
    counts.extend([level] * len(row))

fig, ax = plt.subplots(figsize=(10, 10), dpi=100)
ax.plot(samples, counts, "k.", label="Samples\n$\\mu$ = 6257.21, $\\sigma$ = 8.23")
ax.set_title("Run 569, channel083, Pedestal")
ax.set_xlabel("Sample #")
ax.set_ylabel("ADC Counts")
ax.grid(True)
ax.legend(loc="upper right")
fig.subplots_adjust(left=0.081, right=0.985, top=0.964, bottom=0.058)
fig.savefig("out.png", dpi=100)
